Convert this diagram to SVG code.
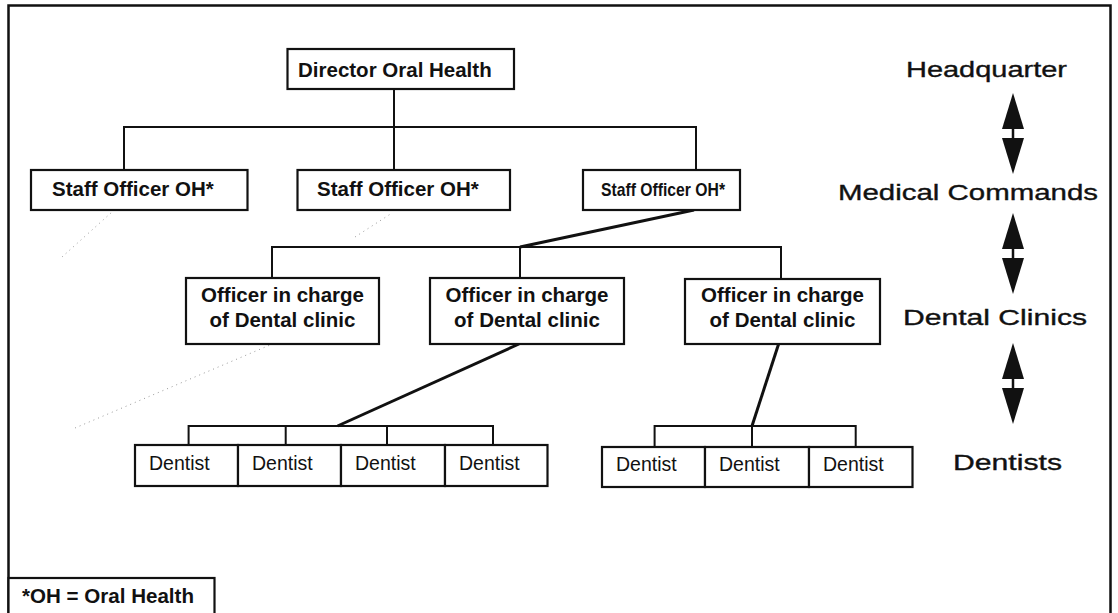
<svg xmlns="http://www.w3.org/2000/svg" width="1118" height="613" viewBox="0 0 1118 613">
  <style>
    .frame { fill: none; stroke: #111; stroke-width: 2.5; }
    .box { fill: #fff; stroke: #111; stroke-width: 2.2; }
    .conn { fill: none; stroke: #111; stroke-width: 2; }
    .diag { fill: none; stroke: #111; stroke-width: 3; }
    .dot { fill: none; stroke: #999; stroke-width: 1; stroke-dasharray: 1 4; }
    .b { font-family: "Liberation Sans", Arial, sans-serif; font-weight: bold; font-size: 20.5px; fill: #111; }
    .sm { font-size: 19px; }
    .r { font-family: "Liberation Sans", Arial, sans-serif; font-size: 19.5px; fill: #111; }
    .lvl { font-family: "Liberation Sans", Arial, sans-serif; font-size: 22px; fill: #111; stroke: #111; stroke-width: 0.35; }
    .arr { fill: #111; }
  </style>
  <defs>
    <!-- double-headed level arrow, drawn around x=0 -->
    <g id="lvlArrow">
      <polygon class="arr" points="-11,36 11,36 0,0"/>
      <line x1="0" y1="35" x2="0" y2="46" stroke="#111" stroke-width="2.5"/>
      <polygon class="arr" points="-11,45 11,45 0,81"/>
    </g>
  </defs>

  <!-- outer frame -->
  <rect class="frame" x="8.5" y="5.5" width="1102" height="620"/>

  <!-- faint scan traces -->
  <g id="traces">
    <line class="dot" x1="62" y1="257" x2="112" y2="212"/>
    <line class="dot" x1="355" y1="237" x2="392" y2="213"/>
    <line class="dot" x1="75" y1="428" x2="270" y2="345"/>
  </g>

  <!-- connectors -->
  <g id="connectors">
    <line class="conn" x1="394" y1="89" x2="394" y2="170"/>
    <polyline class="conn" points="124,170 124,127 696,127 696,170"/>
    <line class="diag" x1="694" y1="210" x2="520" y2="247"/>
    <polyline class="conn" points="272,278 272,247 781,247 781,279"/>
    <line class="conn" x1="520" y1="247" x2="520" y2="278"/>
    <line class="diag" x1="519" y1="344" x2="337.5" y2="426"/>
    <polyline class="conn" points="188.6,445 188.6,426 493,426 493,445"/>
    <line class="conn" x1="285.7" y1="426" x2="285.7" y2="445"/>
    <line class="conn" x1="387" y1="426" x2="387" y2="445"/>
    <line class="diag" x1="778.6" y1="344" x2="752" y2="426"/>
    <polyline class="conn" points="654.6,447 654.6,426 855.7,426 855.7,447"/>
    <line class="conn" x1="752" y1="426" x2="752" y2="447"/>
  </g>

  <!-- headquarter -->
  <g id="director">
    <rect class="box" x="287.5" y="49" width="226.5" height="40"/>
    <text class="b" x="298" y="77">Director Oral Health</text>
  </g>

  <!-- medical commands -->
  <g id="staff1">
    <rect class="box" x="31" y="170" width="216.5" height="40"/>
    <text class="b" x="52" y="196">Staff Officer OH*</text>
  </g>
  <g id="staff2">
    <rect class="box" x="297.5" y="170" width="212.5" height="40"/>
    <text class="b" x="317" y="196">Staff Officer OH*</text>
  </g>
  <g id="staff3">
    <rect class="box" x="583" y="170" width="157" height="40"/>
    <text class="b sm" x="601" y="196" textLength="124" lengthAdjust="spacingAndGlyphs">Staff Officer OH*</text>
  </g>

  <!-- dental clinics -->
  <g id="clinic1">
    <rect class="box" x="186" y="278" width="193" height="66"/>
    <text class="b" x="282.5" y="302" text-anchor="middle">Officer in charge</text>
    <text class="b" x="282.5" y="327" text-anchor="middle">of Dental clinic</text>
  </g>
  <g id="clinic2">
    <rect class="box" x="430" y="278" width="194" height="66"/>
    <text class="b" x="527" y="302" text-anchor="middle">Officer in charge</text>
    <text class="b" x="527" y="327" text-anchor="middle">of Dental clinic</text>
  </g>
  <g id="clinic3">
    <rect class="box" x="685" y="279" width="195" height="65"/>
    <text class="b" x="782.5" y="302" text-anchor="middle">Officer in charge</text>
    <text class="b" x="782.5" y="327" text-anchor="middle">of Dental clinic</text>
  </g>

  <!-- dentists, first clinic -->
  <g id="dentist1"><rect class="box" x="135" y="445" width="103" height="41"/><text class="r" x="149" y="470">Dentist</text></g>
  <g id="dentist2"><rect class="box" x="238" y="445" width="103" height="41"/><text class="r" x="252" y="470">Dentist</text></g>
  <g id="dentist3"><rect class="box" x="341" y="445" width="104" height="41"/><text class="r" x="355" y="470">Dentist</text></g>
  <g id="dentist4"><rect class="box" x="445" y="445" width="102.5" height="41"/><text class="r" x="459" y="470">Dentist</text></g>

  <!-- dentists, third clinic -->
  <g id="dentist5"><rect class="box" x="602" y="447" width="103" height="40"/><text class="r" x="616" y="471">Dentist</text></g>
  <g id="dentist6"><rect class="box" x="705" y="447" width="104" height="40"/><text class="r" x="719" y="471">Dentist</text></g>
  <g id="dentist7"><rect class="box" x="809" y="447" width="103.5" height="40"/><text class="r" x="823" y="471">Dentist</text></g>

  <!-- footnote -->
  <g id="footnote">
    <rect class="box" x="8.5" y="578" width="206" height="50"/>
    <text class="b" x="22" y="603" textLength="172" lengthAdjust="spacingAndGlyphs">*OH = Oral Health</text>
  </g>

  <!-- organisational levels -->
  <g id="levels">
    <text class="lvl" x="906" y="77" textLength="161" lengthAdjust="spacingAndGlyphs">Headquarter</text>
    <text class="lvl" x="838" y="200" textLength="260" lengthAdjust="spacingAndGlyphs">Medical Commands</text>
    <text class="lvl" x="903" y="325" textLength="184" lengthAdjust="spacingAndGlyphs">Dental Clinics</text>
    <text class="lvl" x="953" y="470" textLength="109" lengthAdjust="spacingAndGlyphs">Dentists</text>
    <use href="#lvlArrow" x="1013" y="93"/>
    <use href="#lvlArrow" x="1013" y="213"/>
    <use href="#lvlArrow" x="1013" y="343"/>
  </g>
</svg>
